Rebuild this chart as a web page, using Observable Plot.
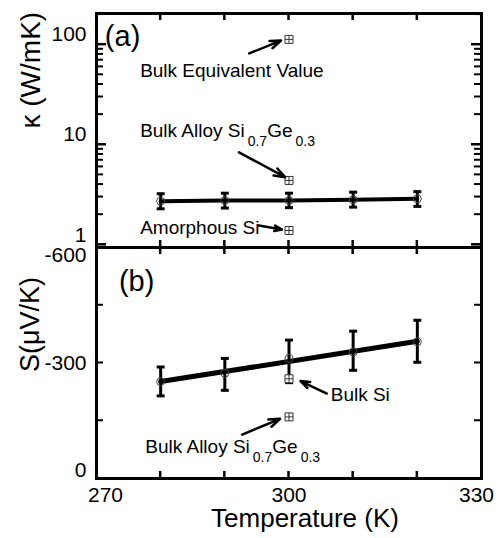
<!DOCTYPE html>
<html><head><meta charset="utf-8">
<script src="https://cdn.jsdelivr.net/npm/d3@7"></script>
<script src="https://cdn.jsdelivr.net/npm/@observablehq/plot@0.6"></script>
<style>
body{margin:0;background:#fff;}
#wrap{position:relative;width:502px;height:538px;}
#wrap svg{position:absolute;left:0;}
</style></head><body><div id="wrap"></div>
<script>
// ---- data ----
const temps = [280, 290, 300, 310, 320];
const kappa = [2.73, 2.77, 2.77, 2.82, 2.88];
const kappaLo = [2.29, 2.33, 2.35, 2.38, 2.42];
const kappaHi = [3.24, 3.28, 3.28, 3.36, 3.40];
const seebeck = [-251.7, -273.3, -312, -328.4, -355];
const seebeckLo = [-214.6, -229, -249, -281, -301.8];
const seebeckHi = [-289.6, -312, -359.5, -382.7, -411];

const refTemp = 300;
const kappaRefNames = ["Bulk Equivalent Value", "Bulk Alloy Si_{0.7}Ge_{0.3}", "Amorphous Si"];
const kappaRefValues = [113, 4.4, 1.39];
const seebeckRefNames = ["Bulk Si", "Bulk Alloy Si_{0.7}Ge_{0.3}"];
const seebeckRefValues = [-259, -160];

// annotation anchors (data units)
const kappaLabelT = [276.8, 276.8, 276.8];
const kappaLabelK = [55, 13.6, 1.49];
const kappaArrowT1 = [293.8, 292.2, 295.3];
const kappaArrowK1 = [81.8, 8.4, 1.56];
const kappaArrowT2 = [298.75, 299.4, 298.9];
const kappaArrowK2 = [110, 4.74, 1.42];
const seebeckLabelT = [306.5, 277.6];
const seebeckLabelS = [-216, -83];
const seebeckArrowT1 = [305.9, 292.7];
const seebeckArrowS1 = [-220.6, -113.8];
const seebeckArrowT2 = [301.8, 298.6];
const seebeckArrowS2 = [-253, -155];
const panelTags = ["(a)", "(b)"];
const panelTagT = [271.3, 273.5];
const panelTagV = [121, -512];

const xDomain = [270, 330];
const kDomain = [0.94, 205];
const sDomain = [0, -600];
const xLabelTicks = [270, 300, 330];
const xMinorTicks = [280, 290, 300, 310, 320];
const kMajorTicks = [1, 10, 100];
const kMinorTicks = [2,3,4,5,6,7,8,9,20,30,40,50,60,70,80,90,200];
const sLabelTicks = [0, -300, -600];
const sMinorTicks = [-150, -300, -450];

// ---- tables ----
const kRows = temps.map((t, i) => ({t, v: kappa[i], lo: kappaLo[i], hi: kappaHi[i]}));
const sRows = temps.map((t, i) => ({t, v: seebeck[i], lo: seebeckLo[i], hi: seebeckHi[i]}));
const kRefs = kappaRefNames.map((n, i) => ({t: refTemp, v: kappaRefValues[i]}));
const sRefs = seebeckRefNames.map((n, i) => ({t: refTemp, v: seebeckRefValues[i]}));
const kLabels = kappaRefNames.map((n, i) => ({t: kappaLabelT[i], v: kappaLabelK[i], text: n}));
const sLabels = seebeckRefNames.map((n, i) => ({t: seebeckLabelT[i], v: seebeckLabelS[i], text: n}));
const kArrows = kappaRefNames.map((n, i) => ({x1: kappaArrowT1[i], y1: kappaArrowK1[i], x2: kappaArrowT2[i], y2: kappaArrowK2[i]}));
const sArrows = seebeckRefNames.map((n, i) => ({x1: seebeckArrowT1[i], y1: seebeckArrowS1[i], x2: seebeckArrowT2[i], y2: seebeckArrowS2[i]}));

const font = "'Liberation Sans', Arial, Helvetica, sans-serif";
const W = 502, ML = 96, MR = 21;
const cap = {draw(ctx, size) { const w = Math.sqrt(size) / 2; ctx.moveTo(-w, 0); ctx.lineTo(w, 0); }};
const sqPlus = {draw(ctx, size) { const s = Math.sqrt(size) / 2;
  ctx.rect(-s, -s, 2 * s, 2 * s); ctx.moveTo(-s, 0); ctx.lineTo(s, 0); ctx.moveTo(0, -s); ctx.lineTo(0, s); }};
const num = d => String(d);

function errorMarks(data) {
  return [
    Plot.ruleX(data, {x: "t", y1: "lo", y2: "hi", stroke: "black", strokeWidth: 3}),
    Plot.dot(data, {x: "t", y: "lo", symbol: cap, r: 4.5, stroke: "black", fill: "none", strokeWidth: 3}),
    Plot.dot(data, {x: "t", y: "hi", symbol: cap, r: 4.5, stroke: "black", fill: "none", strokeWidth: 3})
  ];
}

const HA = 262, MTA = 13, MBA = 15, FHA = HA - MTA - MBA;
const A = Plot.plot({
  width: W, height: HA, marginTop: MTA, marginBottom: MBA, marginLeft: ML, marginRight: MR,
  style: {background: "transparent", fontFamily: font, fontSize: "21px", color: "black"},
  x: {domain: xDomain, axis: null},
  y: {type: "log", domain: kDomain, axis: null},
  marks: [
    Plot.line(kRows, {x: "t", y: "v", stroke: "black", strokeWidth: 4}),
    ...errorMarks(kRows),
    Plot.dot(kRows, {x: "t", y: "v", r: 4, stroke: "#444", fill: "none", strokeWidth: 1}),
    Plot.dot(kRefs, {x: "t", y: "v", symbol: sqPlus, r: 4.5, stroke: "#333", fill: "white", strokeWidth: 1}),
    Plot.arrow(kArrows, {x1: "x1", y1: "y1", x2: "x2", y2: "y2", stroke: "black", strokeWidth: 2.5, headLength: 7, headAngle: 40}),
    Plot.text(kLabels, {x: "t", y: "v", text: "text", textAnchor: "start", fontSize: 19, fill: "black"}),
    Plot.text([{t: panelTagT[0], v: panelTagV[0], text: panelTags[0]}], {x: "t", y: "v", text: "text", textAnchor: "start", fontSize: 29, fill: "black"}),
    Plot.text(["κ (W/mK)"], {frameAnchor: "left", rotate: -90, dx: -65, dy: -2, fontSize: 28, fill: "black"}),
    Plot.axisY({anchor: "left", ticks: kMajorTicks, tickSize: 0, tickPadding: 10, dy: -10, fontSize: 21, tickFormat: num, label: null}),
    Plot.frame({stroke: "black", strokeWidth: 3})
  ]
});

const HB = 303, MTB = 12, MBB = 60, FHB = HB - MTB - MBB;
const B = Plot.plot({
  width: W, height: HB, marginTop: MTB, marginBottom: MBB, marginLeft: ML, marginRight: MR,
  style: {background: "transparent", fontFamily: font, fontSize: "21px", color: "black"},
  x: {domain: xDomain, axis: null},
  y: {domain: sDomain, axis: null},
  marks: [
    Plot.axisY({anchor: "left", ticks: [sLabelTicks[0]], tickSize: 0, tickPadding: 10, dy: -8, fontSize: 21, tickFormat: num, label: null}),
    Plot.axisY({anchor: "left", ticks: [sLabelTicks[1]], tickSize: 0, tickPadding: 10, fontSize: 21, tickFormat: num, label: null}),
    Plot.axisY({anchor: "left", ticks: [sLabelTicks[2]], tickSize: 0, tickPadding: 10, dy: 8, fontSize: 21, tickFormat: num, label: null}),
    Plot.axisX({anchor: "bottom", ticks: [xLabelTicks[0]], tickSize: 0, tickPadding: 9, dx: 9, fontSize: 21, tickFormat: num, label: null}),
    Plot.axisX({anchor: "bottom", ticks: [xLabelTicks[1]], tickSize: 0, tickPadding: 9, fontSize: 21, tickFormat: num, label: null}),
    Plot.axisX({anchor: "bottom", ticks: [xLabelTicks[2]], tickSize: 0, tickPadding: 9, dx: -5, fontSize: 21, tickFormat: num, label: null}),
    Plot.linearRegressionY(sRows, {x: "t", y: "v", stroke: "black", strokeWidth: 5, ci: 0}),
    ...errorMarks(sRows),
    Plot.dot(sRows, {x: "t", y: "v", r: 4, stroke: "#444", fill: "none", strokeWidth: 1}),
    Plot.dot(sRefs, {x: "t", y: "v", symbol: sqPlus, r: 4.5, stroke: "#333", fill: "white", strokeWidth: 1}),
    Plot.arrow(sArrows, {x1: "x1", y1: "y1", x2: "x2", y2: "y2", stroke: "black", strokeWidth: 2.5, headLength: 7, headAngle: 40}),
    Plot.text(sLabels, {x: "t", y: "v", text: "text", textAnchor: "start", fontSize: 19, fill: "black"}),
    Plot.text([{t: panelTagT[1], v: panelTagV[1], text: panelTags[1]}], {x: "t", y: "v", text: "text", textAnchor: "start", fontSize: 29, fill: "black"}),
    Plot.text(["S(μV/K)"], {frameAnchor: "left", rotate: -90, dx: -66, dy: 9, fontSize: 27, fill: "black"}),
    Plot.text(["Temperature (K)"], {frameAnchor: "bottom", dx: 16, dy: 48, fontSize: 26, fill: "black"}),
    Plot.frame({stroke: "black", strokeWidth: 3})
  ]
});

// inward frame ticks, positioned through each plot's own scales
function addTicks(svg, yTicksMajor, yTicksMinor, top, bottom) {
  const sx = svg.scale("x"), sy = svg.scale("y");
  const xl = ML, xr = W - MR;
  const g = d3.select(svg).append("g").attr("stroke", "black");
  const yt = [...yTicksMajor.map(v => [v, 10, 2.5]), ...yTicksMinor.map(v => [v, 7, 2])];
  for (const [v, len, sw] of yt) {
    const y = sy.apply(v);
    g.append("line").attr("x1", xl).attr("x2", xl + len).attr("y1", y).attr("y2", y).attr("stroke-width", sw);
    g.append("line").attr("x1", xr - len).attr("x2", xr).attr("y1", y).attr("y2", y).attr("stroke-width", sw);
  }
  for (const v of xMinorTicks) {
    const x = sx.apply(v);
    g.append("line").attr("x1", x).attr("x2", x).attr("y1", top).attr("y2", top + 7).attr("stroke-width", 2.5);
    g.append("line").attr("x1", x).attr("x2", x).attr("y1", bottom - 7).attr("y2", bottom).attr("stroke-width", 2.5);
  }
}
addTicks(A, kMajorTicks, kMinorTicks, MTA, HA - MBA);
addTicks(B, [], sMinorTicks, MTB, HB - MBB);

// subscripts: "_{...}" -> tspans
function subscripts(svg) {
  svg.querySelectorAll("text").forEach(t => {
    const s = t.textContent;
    if (!s.includes("_{")) return;
    const parts = s.split(/_\{([^}]*)\}/);
    t.textContent = "";
    parts.forEach((p, i) => {
      if (!p) return;
      const ts = document.createElementNS("http://www.w3.org/2000/svg", "tspan");
      if (i % 2 === 1) { ts.setAttribute("dy", "9"); ts.setAttribute("font-size", "14"); ts.setAttribute("dx", "3"); }
      else if (i > 0) { ts.setAttribute("dy", "-9"); }
      ts.textContent = p;
      t.appendChild(ts);
    });
  });
}
subscripts(A); subscripts(B);
A.style.top = "0px";
B.style.top = (MTA + FHA - MTB) + "px";
const wrap = document.getElementById("wrap");
wrap.appendChild(A);
wrap.appendChild(B);
</script></body></html>
